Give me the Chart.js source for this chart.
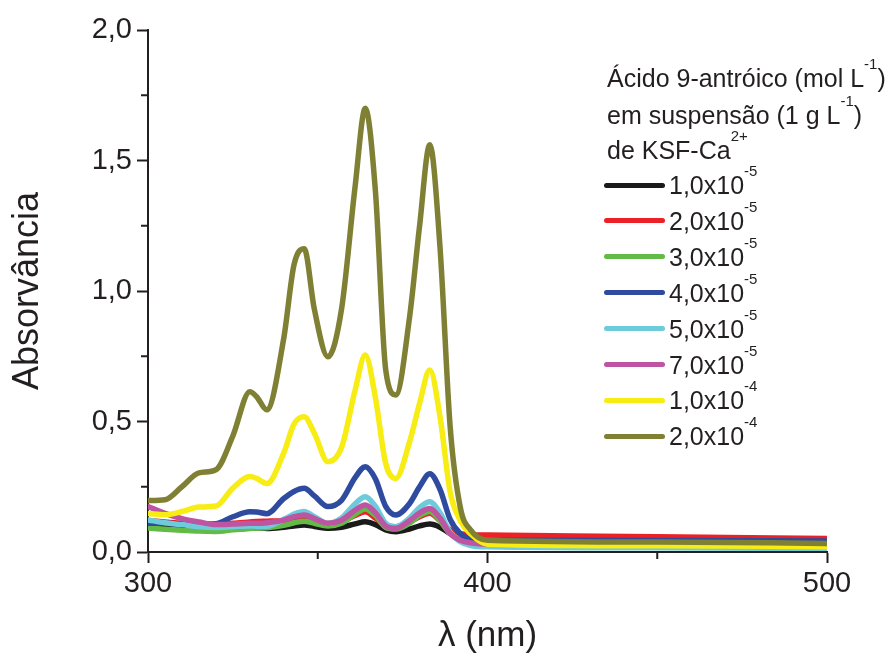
<!DOCTYPE html>
<html>
<head>
<meta charset="utf-8">
<script src="https://cdn.jsdelivr.net/npm/chart.js@4.4.1/dist/chart.umd.min.js"></script>
<style>
  html, body { margin: 0; padding: 0; background: #fff; }
  #wrap { position: relative; width: 895px; height: 657px; }
  #legend { position: absolute; left: 0; top: 0; font-family: "Liberation Sans", Arial, sans-serif; font-size: 25px; color: #231f20; }
  #legend div { position: absolute; white-space: nowrap; line-height: 30px; }
  #legend sup { font-size: 15px; position: relative; top: -7px; vertical-align: top; line-height: 15px; }
  #legend .sw { position: absolute; width: 61px; height: 5px; border-radius: 3px; }
</style>
</head>
<body>
<div id="wrap">
  <canvas id="chart" width="895" height="657"></canvas>
  <div id="legend"></div>
</div>
<script>
// wavelength grid (nm)
const wavelengths = [300, 305, 310, 315, 320, 325, 330, 332, 335, 340, 343, 346, 349, 353, 357, 361, 364, 367, 370, 373, 377, 380, 383, 386, 389, 392, 395, 400, 450, 500];

// absorbance for each concentration
const abs1e5 = [0.100, 0.096, 0.093, 0.090, 0.088, 0.088, 0.092, 0.093, 0.090, 0.095, 0.100, 0.103, 0.098, 0.091, 0.095, 0.108, 0.116, 0.105, 0.085, 0.078, 0.088, 0.100, 0.107, 0.095, 0.070, 0.050, 0.040, 0.035, 0.032, 0.030];
const abs2e5 = [0.120, 0.115, 0.110, 0.107, 0.107, 0.110, 0.115, 0.117, 0.118, 0.120, 0.122, 0.125, 0.117, 0.104, 0.115, 0.140, 0.154, 0.130, 0.100, 0.097, 0.115, 0.135, 0.148, 0.120, 0.085, 0.070, 0.066, 0.065, 0.058, 0.052];
const abs3e5 = [0.092, 0.087, 0.083, 0.080, 0.079, 0.085, 0.090, 0.092, 0.093, 0.102, 0.112, 0.118, 0.110, 0.100, 0.110, 0.145, 0.165, 0.140, 0.095, 0.088, 0.110, 0.140, 0.155, 0.120, 0.070, 0.050, 0.040, 0.035, 0.032, 0.030];
const abs4e5 = [0.110, 0.110, 0.107, 0.104, 0.108, 0.135, 0.154, 0.153, 0.147, 0.205, 0.232, 0.244, 0.215, 0.174, 0.198, 0.285, 0.327, 0.280, 0.175, 0.142, 0.185, 0.250, 0.300, 0.240, 0.125, 0.070, 0.050, 0.045, 0.044, 0.042];
const abs5e5 = [0.123, 0.112, 0.105, 0.097, 0.094, 0.097, 0.100, 0.099, 0.099, 0.125, 0.145, 0.155, 0.135, 0.110, 0.130, 0.185, 0.212, 0.175, 0.110, 0.097, 0.130, 0.170, 0.193, 0.150, 0.075, 0.040, 0.025, 0.020, 0.016, 0.014];
const abs7e5 = [0.174, 0.148, 0.128, 0.115, 0.105, 0.107, 0.110, 0.110, 0.112, 0.122, 0.135, 0.142, 0.128, 0.110, 0.122, 0.160, 0.180, 0.150, 0.100, 0.091, 0.120, 0.150, 0.167, 0.130, 0.070, 0.045, 0.035, 0.030, 0.028, 0.025];
const abs1e4 = [0.148, 0.143, 0.155, 0.172, 0.176, 0.245, 0.289, 0.282, 0.262, 0.380, 0.490, 0.518, 0.455, 0.346, 0.400, 0.620, 0.755, 0.590, 0.340, 0.282, 0.420, 0.570, 0.697, 0.520, 0.230, 0.120, 0.070, 0.030, 0.024, 0.020];
const abs2e4 = [0.197, 0.200, 0.250, 0.303, 0.315, 0.445, 0.614, 0.595, 0.545, 0.820, 1.100, 1.162, 0.930, 0.748, 0.930, 1.400, 1.700, 1.380, 0.700, 0.602, 0.895, 1.250, 1.560, 1.170, 0.480, 0.170, 0.085, 0.045, 0.038, 0.033];

// legend labels: mantissa x 10^exponent
const concMantissa = ['1,0', '2,0', '3,0', '4,0', '5,0', '7,0', '1,0', '2,0'];
const concExponent = ['-5', '-5', '-5', '-5', '-5', '-5', '-4', '-4'];

const series = [abs1e5, abs2e5, abs3e5, abs4e5, abs5e5, abs7e5, abs1e4, abs2e4];
const colors = ['#1a1a1a', '#ec2027', '#62bb46', '#2e4b9f', '#6dcbdb', '#bd55a2', '#f7ec13', '#7f8034'];
const ink = '#231f20';
const font = '"Liberation Sans", Arial, sans-serif';

const datasets = series.map((vals, i) => ({
    label: concMantissa[i] + 'x10' + concExponent[i],
    data: wavelengths.map((x, j) => ({ x: x, y: vals[j] })),
    borderColor: colors[i],
    borderWidth: 5.5,
    pointRadius: 0,
    fill: false,
    cubicInterpolationMode: 'monotone',
    borderCapStyle: 'round',
    borderJoinStyle: 'round',
    order: series.length - 1 - i
}));

const isMajor = (v, step) => Math.abs(v / step - Math.round(v / step)) < 1e-6;

// shorter minor ticks drawn through the scales
const minorTicks = {
    id: 'minorTicks',
    afterDraw(chart) {
        const c = chart.ctx;
        const xs = chart.scales.x, ys = chart.scales.y;
        c.save();
        c.strokeStyle = ink;
        c.lineWidth = 2;
        ys.ticks.forEach(t => {
            if (isMajor(t.value, 0.5)) return;
            const py = ys.getPixelForValue(t.value);
            c.beginPath(); c.moveTo(ys.right - 7, py); c.lineTo(ys.right, py); c.stroke();
        });
        xs.ticks.forEach(t => {
            if (isMajor(t.value, 100)) return;
            const px = xs.getPixelForValue(t.value);
            c.beginPath(); c.moveTo(px, xs.top); c.lineTo(px, xs.top + 7); c.stroke();
        });
        c.restore();
    }
};

new Chart(document.getElementById('chart'), {
    type: 'line',
    data: { datasets },
    options: {
        responsive: false,
        animation: false,
        layout: { padding: { left: 0, right: 68, top: 30, bottom: 0 } },
        plugins: { legend: { display: false }, tooltip: { enabled: false } },
        scales: {
            x: {
                type: 'linear',
                min: 300, max: 500,
                afterFit: s => { s.height = 105; },
                border: { display: true, color: ink, width: 2 },
                grid: {
                    drawOnChartArea: false,
                    tickLength: 11,
                    tickWidth: 2,
                    tickColor: ctx => (ctx.tick && isMajor(ctx.tick.value, 100)) ? ink : 'rgba(0,0,0,0)'
                },
                ticks: {
                    stepSize: 50,
                    maxRotation: 0,
                    padding: 4,
                    color: ink,
                    font: { family: font, size: 29 },
                    callback: v => isMajor(v, 100) ? String(v) : ''
                },
                title: {
                    display: true,
                    text: 'λ (nm)',
                    color: ink,
                    font: { family: font, size: 35 },
                    padding: { top: 0, bottom: 0 }
                }
            },
            y: {
                min: 0, max: 2,
                afterFit: s => { s.width = 148; },
                border: { display: true, color: ink, width: 2 },
                grid: {
                    drawOnChartArea: false,
                    tickLength: 11,
                    tickWidth: 2,
                    tickColor: ctx => (ctx.tick && isMajor(ctx.tick.value, 0.5)) ? ink : 'rgba(0,0,0,0)'
                },
                ticks: {
                    stepSize: 0.25,
                    padding: 5,
                    color: ink,
                    font: { family: font, size: 29 },
                    callback: v => isMajor(v, 0.5) ? v.toFixed(1).replace('.', ',') : ''
                },
                title: {
                    display: true,
                    text: 'Absorvância',
                    color: ink,
                    font: { family: font, size: 36 },
                    padding: { top: 6, bottom: 0 }
                }
            }
        }
    },
    plugins: [minorTicks]
});

// legend with superscripts
const legend = document.getElementById('legend');
const titleLines = [
    'Ácido 9-antróico (mol L<sup>-1</sup>)',
    'em suspensão (1 g L<sup>-1</sup>)',
    'de KSF-Ca<sup>2+</sup>'
];
const titleCenters = [78, 115, 150];
titleLines.forEach((html, i) => {
    const d = document.createElement('div');
    d.style.left = '607px';
    d.style.top = (titleCenters[i] - 15) + 'px';
    d.innerHTML = html;
    legend.appendChild(d);
});
series.forEach((_, i) => {
    const cy = 185 + 35.9 * i;
    const sw = document.createElement('div');
    sw.className = 'sw';
    sw.style.left = '604px';
    sw.style.top = (cy - 2.5) + 'px';
    sw.style.background = colors[i];
    legend.appendChild(sw);
    const t = document.createElement('div');
    t.style.left = '669px';
    t.style.top = (cy - 15) + 'px';
    t.innerHTML = concMantissa[i] + 'x10<sup>' + concExponent[i] + '</sup>';
    legend.appendChild(t);
});
</script>
</body>
</html>
